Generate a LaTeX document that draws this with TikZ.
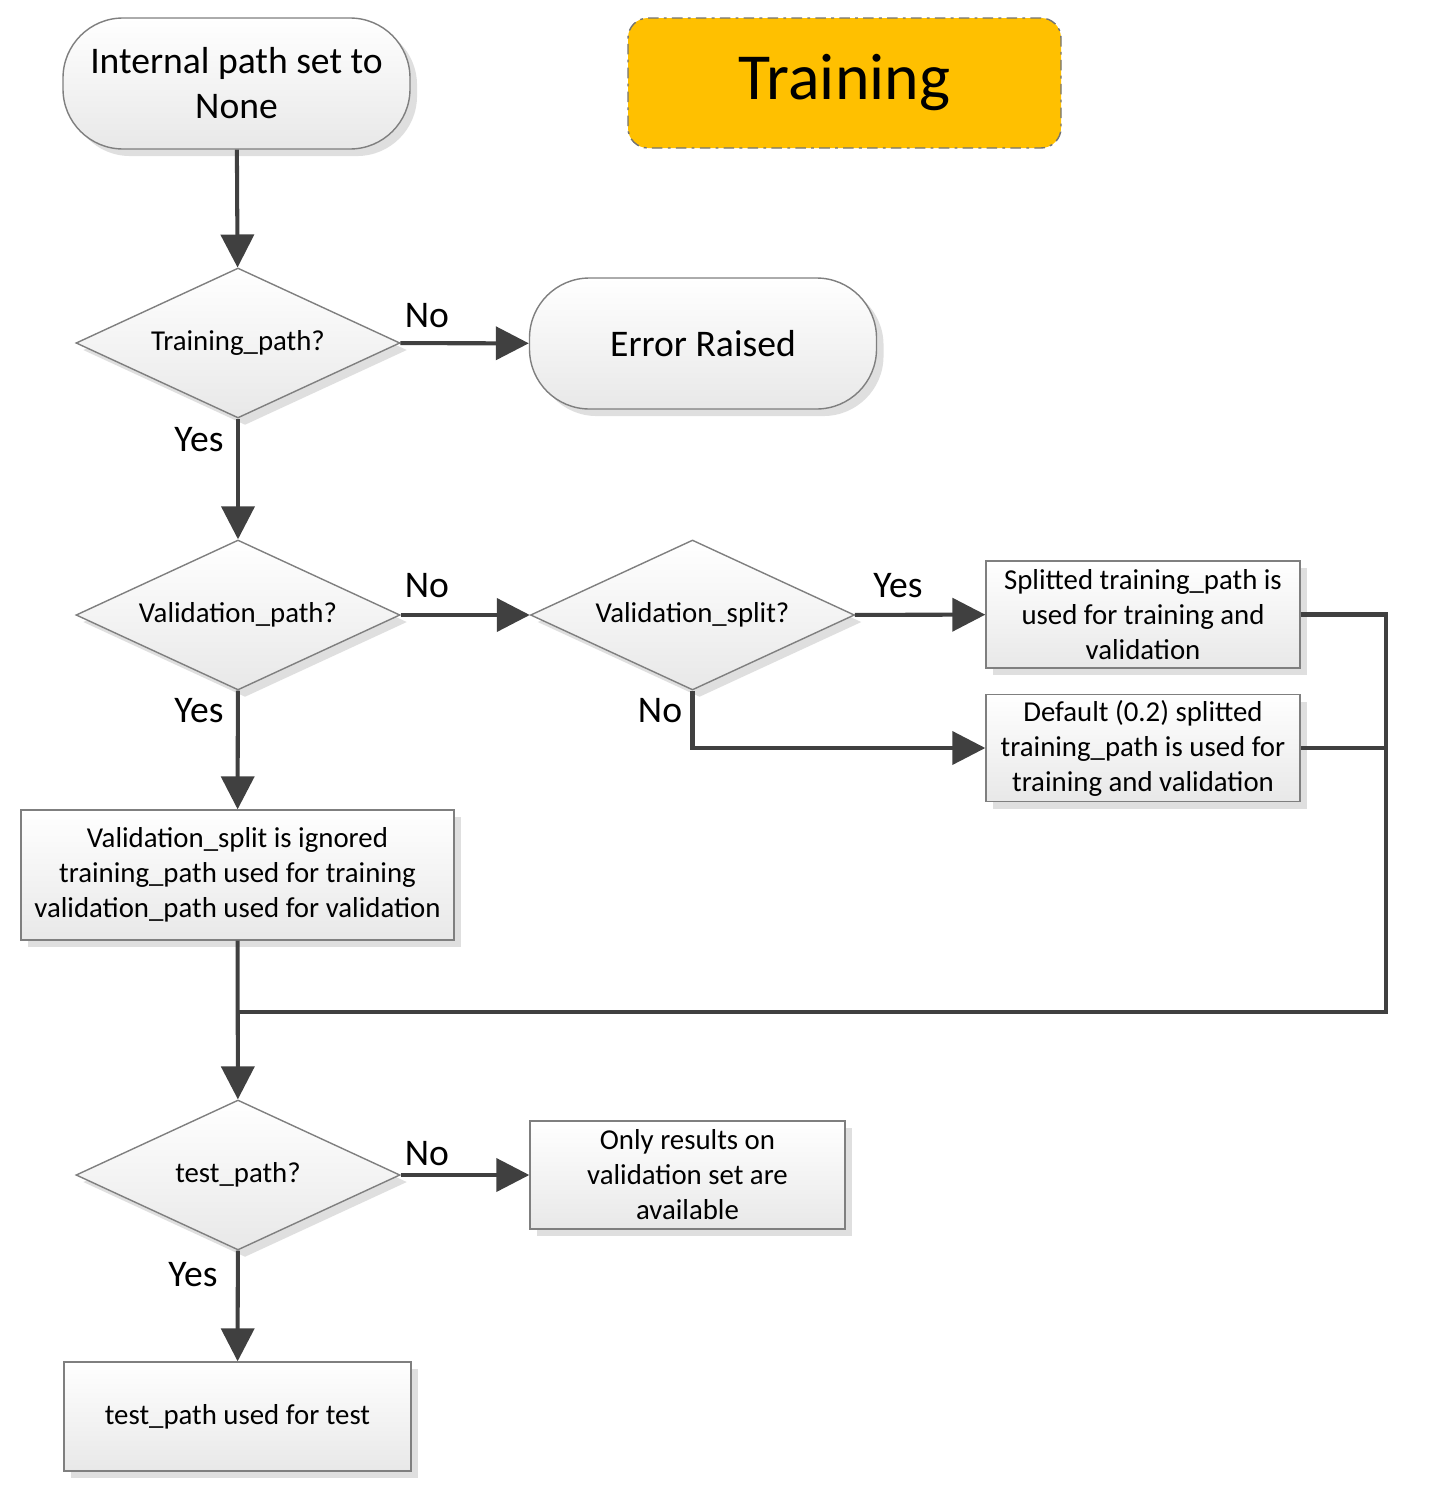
\documentclass[tikz,border=0pt]{standalone}
\usepackage{fontspec}
\setmainfont{Carlito}
\usetikzlibrary{arrows.meta,positioning,shapes.geometric,shadows}
\usepackage{xcolor}

\definecolor{flowgray}{HTML}{404040}
\definecolor{edgegray}{HTML}{7F7F7F}
\definecolor{titlefill}{HTML}{FFC000}

\tikzset{
  base/.style={draw=edgegray, top color=white, bottom color=black!9, align=center, inner sep=0pt,
    drop shadow={shadow xshift=2pt, shadow yshift=-2pt, fill=black!25, opacity=0.5}},
  term/.style={base, rounded corners=0.6cm, minimum width=3.47cm, minimum height=1.31cm,
    font=\fontsize{10.7}{12.8}\selectfont},
  decide/.style={base, diamond, shape aspect=2.16, minimum width=3.24cm, minimum height=1.5cm,
    font=\fontsize{8.2}{10}\selectfont},
  proc/.style={base, rectangle, minimum width=3.14cm, minimum height=1.07cm,
    font=\fontsize{8.2}{9.96}\selectfont},
  flow/.style={draw=flowgray, line width=1.15pt, -{Triangle[length=0.33cm,width=0.33cm]}},
  link/.style={draw=flowgray, line width=1.15pt},
  answer/.style={font=\fontsize{10.7}{12.8}\selectfont},
}

\begin{document}
\begin{tikzpicture}
\useasboundingbox (0,0) rectangle (14.38,-15.01);

% top row
\node[term] (start) at (2.365,-0.835) {Internal path set to\\None};
\node[draw=black!55, dash pattern=on 3pt off 1.5pt on 0.8pt off 1.5pt, fill=titlefill,
  rounded corners=0.2cm, minimum width=4.33cm, minimum height=1.30cm,
  font=\fontsize{18.7}{22}\selectfont] (title) at (8.445,-0.83) {Training};

% decisions
\node[decide] (trainq) at (2.38,-3.43) {Training\_path?};
\node[term] (error) at (7.03,-3.435) {Error Raised};
\node[decide] (valq) at (2.38,-6.15) {Validation\_path?};
\node[decide] (splitq) at (6.925,-6.15) {Validation\_split?};
\node[decide] (testq) at (2.38,-11.75) {test\_path?};

% results
\node[proc] (splitbox) at (11.43,-6.145) {Splitted training\_path is\\used for training and\\validation};
\node[proc] (defbox) at (11.43,-7.48) {Default (0.2) splitted\\training\_path is used for\\training and validation};
\node[proc, minimum width=4.33cm, minimum height=1.30cm] (ignorebox) at (2.375,-8.75)
  {Validation\_split is ignored\\training\_path used for training\\validation\_path used for validation};
\node[proc, minimum width=3.15cm, minimum height=1.08cm] (onlyval) at (6.875,-11.75)
  {Only results on\\validation set are\\available};
\node[proc, minimum width=3.47cm, minimum height=1.09cm] (testbox) at (2.375,-14.165) {test\_path used for test};

% answers
\node[answer] (no1) at (4.27,-3.16) {No};
\node[answer] (yes1) at (1.99,-4.40) {Yes};
\node[answer] (no2) at (4.27,-5.86) {No};
\node[answer] (yes2) at (8.98,-5.86) {Yes};
\node[answer] (no3) at (6.60,-7.11) {No};
\node[answer] (yes3) at (1.99,-7.11) {Yes};
\node[answer] (no4) at (4.27,-11.54) {No};
\node[answer] (yes4) at (1.93,-12.75) {Yes};

% joins
\coordinate (joinR) at (13.86,-10.12);
\coordinate (joinL) at (2.38,-10.12);

% connectors
\draw[flow] (start) -- (trainq);
\draw[flow] (trainq) -- (error);
\draw[flow] (trainq) -- (valq);
\draw[flow] (valq) -- (splitq);
\draw[flow] (splitq) -- (splitbox);
\draw[flow] (splitq.south) |- (defbox);
\draw[flow] (valq) -- (ignorebox);
\draw[link] (splitbox.east) -| (joinR) -- (joinL);
\draw[link] (defbox.east) -- (defbox.east -| joinR);
\draw[flow] (ignorebox) -- (testq);
\draw[flow] (testq) -- (onlyval);
\draw[flow] (testq) -- (testbox);
\end{tikzpicture}
\end{document}
